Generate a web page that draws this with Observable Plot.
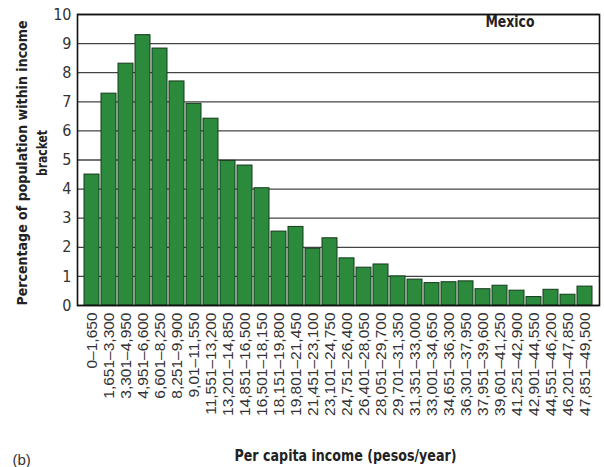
<!DOCTYPE html>
<html>
<head>
<meta charset="utf-8">
<script src="https://cdn.jsdelivr.net/npm/d3@7"></script>
<script src="https://cdn.jsdelivr.net/npm/@observablehq/plot@0.6"></script>
<style>
  html, body { margin: 0; padding: 0; background: #fff; }
  #chart { width: 604px; height: 467px; }
</style>
</head>
<body>
<div id="chart"></div>
<script>
const brackets = [
  "0–1,650", "1,651–3,300", "3,301–4,950", "4,951–6,600", "6,601–8,250",
  "8,251–9,900", "9,01–11,550", "11,551–13,200", "13,201–14,850", "14,851–16,500",
  "16,501–18,150", "18,151–19,800", "19,801–21,450", "21,451–23,100", "23,101–24,750",
  "24,751–26,400", "26,401–28,050", "28,051–29,700", "29,701–31,350", "31,351–33,000",
  "33,001–34,650", "34,651–36,300", "36,301–37,950", "37,951–39,600", "39,601–41,250",
  "41,251–42,900", "42,901–44,550", "44,551–46,200", "46,201–47,850", "47,851–49,500"
];
const percentages = [
  4.5, 7.28, 8.31, 9.29, 8.83,
  7.7, 6.93, 6.42, 4.97, 4.81,
  4.03, 2.54, 2.7, 1.95, 2.31,
  1.62, 1.3, 1.41, 1.0, 0.89,
  0.77, 0.8, 0.83, 0.56, 0.68,
  0.51, 0.29, 0.54, 0.37, 0.65
];
const yTicks = [0, 1, 2, 3, 4, 5, 6, 7, 8, 9, 10];
const country = "Mexico";
const xTitle = "Per capita income (pesos/year)";
const yTitleLine1 = "Percentage of population within income";
const yTitleLine2 = "bracket";
const panel = "(b)";

const data = brackets.map((b, i) => ({bracket: b, pct: percentages[i]}));

const narrow = "'DejaVu Sans Condensed', 'Liberation Sans Narrow', sans-serif";
const regular = "'Liberation Sans', Arial, sans-serif";
const bold = "'DejaVu Sans', sans-serif";

const chart = Plot.plot({
  width: 604,
  height: 467,
  marginLeft: 77,
  marginRight: 5,
  marginTop: 14,
  marginBottom: 162,
  style: {fontFamily: regular, background: "#fff", color: "#222"},
  x: {domain: brackets, paddingInner: 0.12, paddingOuter: 0.15, label: null},
  y: {domain: [0, 10], label: null},
  marks: [
    Plot.ruleY(yTicks, {stroke: "#444", strokeWidth: 1.3}),
    Plot.barY(data, {x: "bracket", y: "pct", fill: "#2b8a3b", stroke: "#163a1c", strokeWidth: 1}),
    Plot.frame({stroke: "#111", strokeWidth: 1.6}),
    Plot.axisY({ticks: yTicks, tickSize: 0, tickPadding: 6, fontSize: 16, fontFamily: narrow, fill: "#333", label: null}),
    Plot.axisX({tickSize: 0, tickPadding: 7, tickRotate: -90, fontSize: 15.5, fontFamily: regular, fill: "#333", label: null}),
    Plot.text([country], {ariaDescription: "t-country", frameAnchor: "top-right", text: d => d, dx: -65, dy: 1, textAnchor: "end", lineAnchor: "top", fontSize: 16, fontWeight: "bold", fontFamily: bold, fill: "#222"}),
    Plot.text([xTitle], {ariaDescription: "t-xtitle", frameAnchor: "bottom", text: d => d, dx: 7, dy: 151, lineAnchor: "middle", textAnchor: "middle", fontSize: 15, fontWeight: "bold", fontFamily: bold, fill: "#222"}),
    Plot.text([yTitleLine1], {ariaDescription: "t-y1", frameAnchor: "left", text: d => d, dx: -55, dy: 3, rotate: -90, textAnchor: "middle", lineAnchor: "middle", fontSize: 13.5, fontWeight: "bold", fontFamily: bold, fill: "#222"}),
    Plot.text([yTitleLine2], {ariaDescription: "t-y2", frameAnchor: "left", text: d => d, dx: -35, dy: -7, rotate: -90, textAnchor: "middle", lineAnchor: "middle", fontSize: 13.5, fontWeight: "bold", fontFamily: bold, fill: "#222"}),
    Plot.text([panel], {frameAnchor: "bottom-left", text: d => d, dx: -65, dy: 155, textAnchor: "start", lineAnchor: "middle", fontSize: 15, fontFamily: regular, fill: "#333"})
  ]
});

// condense the bold titles to the reference widths
const squeeze = {"t-country": 49, "t-xtitle": 222, "t-y1": 285, "t-y2": 46};
for (const [label, len] of Object.entries(squeeze)) {
  chart.querySelectorAll(`g[aria-description="${label}"] text`).forEach(t => {
    t.setAttribute("textLength", len);
    t.setAttribute("lengthAdjust", "spacingAndGlyphs");
  });
}
document.getElementById("chart").appendChild(chart);
</script>
</body>
</html>
